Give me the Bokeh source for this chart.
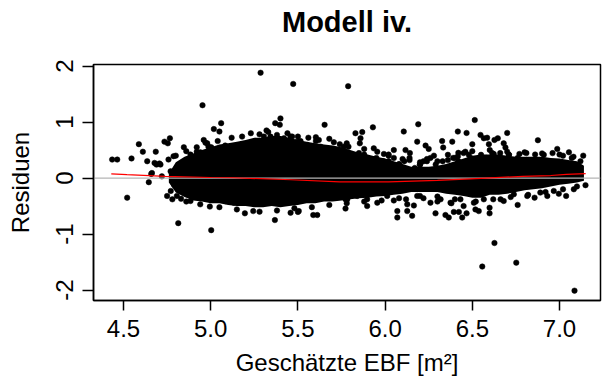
from bokeh.plotting import figure
from bokeh.models import Range1d, FixedTicker, NumeralTickFormatter, ColumnDataSource, LinearAxis
from bokeh.embed import file_html
from bokeh.resources import INLINE

# ---- data ----
title_text = "Modell iv."
x_label = "Geschätzte EBF [m²]"
y_label = "Residuen"

# dense core of the residual cloud (envelope per fitted value)
core_x = [4.76, 4.80, 4.85, 4.90, 4.95, 5.00, 5.05, 5.10, 5.15, 5.20, 5.25, 5.30, 5.35, 5.40,
          5.45, 5.50, 5.55, 5.60, 5.65, 5.70, 5.75, 5.80, 5.85, 5.90, 5.95, 6.00, 6.05, 6.10,
          6.15, 6.20, 6.25, 6.30, 6.35, 6.40, 6.45, 6.50, 6.55, 6.60, 6.65, 6.70, 6.75, 6.80,
          6.85, 6.90, 6.95, 7.00, 7.05, 7.10, 7.14]
core_hi = [0.08, 0.28, 0.38, 0.44, 0.50, 0.55, 0.60, 0.62, 0.65, 0.68, 0.72, 0.72, 0.75, 0.75,
           0.72, 0.68, 0.65, 0.62, 0.60, 0.58, 0.55, 0.50, 0.45, 0.42, 0.38, 0.35, 0.30, 0.25,
           0.20, 0.20, 0.20, 0.22, 0.25, 0.30, 0.35, 0.40, 0.42, 0.42, 0.42, 0.40, 0.38, 0.38,
           0.38, 0.38, 0.36, 0.35, 0.32, 0.30, 0.22]
core_lo = [-0.08, -0.26, -0.34, -0.40, -0.42, -0.45, -0.45, -0.48, -0.50, -0.50, -0.52, -0.52,
           -0.50, -0.52, -0.50, -0.48, -0.45, -0.45, -0.42, -0.42, -0.40, -0.38, -0.36, -0.35,
           -0.33, -0.32, -0.30, -0.28, -0.25, -0.25, -0.25, -0.25, -0.28, -0.30, -0.32, -0.35,
           -0.35, -0.30, -0.30, -0.28, -0.25, -0.22, -0.20, -0.18, -0.15, -0.12, -0.10, -0.08,
           -0.05]

# individual points outside / at the edge of the core
pts_x = [4.435, 4.464, 4.546, 4.588, 4.611, 4.636, 4.685, 4.689, 4.712, 4.735, 4.766, 4.754,
         4.846, 4.953, 4.96, 5.018, 5.05, 5.06, 5.003, 5.083, 5.286, 5.32, 5.37, 5.40, 5.396,
         5.473, 5.467, 5.515, 5.603, 5.603, 5.653, 5.706, 5.74, 5.788,
         4.663, 4.678, 4.706, 4.72, 4.659, 4.645, 4.521, 4.75, 4.814, 4.83, 4.884, 4.995,
         5.003, 4.987, 4.90, 4.94,
         5.196, 5.244, 5.368, 5.458, 5.50, 5.588, 5.611, 5.773, 5.505, 5.132, 5.085, 5.773,
         5.79, 5.83, 5.869, 5.859, 5.855, 5.93, 5.935, 5.955, 5.993, 6.05, 6.107, 6.117,
         6.142, 6.19, 6.184, 6.232, 6.25, 6.20, 6.22, 6.327, 6.333, 6.385, 6.417, 6.417,
         6.467, 6.46, 6.48, 6.514, 6.50, 6.547, 6.566, 6.585, 6.595, 6.627, 6.646, 6.623,
         6.68, 6.69, 6.70, 6.71, 6.77, 6.876, 6.987, 7.054, 7.136, 6.614,
         5.897, 6.07, 6.07, 6.127, 6.155, 6.165, 6.289, 6.346, 6.365, 6.394, 6.423, 6.442,
         6.467, 6.518, 6.537, 6.599, 6.599, 6.627, 6.557, 6.752, 6.76, 7.086, 7.149, 7.038,
         6.996, 6.857, 6.93, 6.68,
         5.12, 5.18, 5.23, 5.28, 5.33, 5.44, 5.50, 5.56, 5.62, 5.68, 5.78, 5.88, 4.98, 5.04,
         4.92, 4.86, 4.80, 4.78, 4.86, 4.94, 5.05, 5.15, 5.28, 5.38, 5.48, 5.58, 5.68, 5.78,
         5.88, 5.98, 6.08, 6.20, 6.30, 6.40, 6.52, 6.62, 6.72, 6.82, 6.92, 7.02, 7.10,
         6.02, 6.10, 6.20, 6.30, 6.40, 6.50, 6.60, 6.70, 6.80, 6.90, 7.00, 7.08,
         6.02, 6.08, 6.14, 6.24, 6.28, 6.36, 6.42, 6.05, 6.12, 6.22, 6.30, 6.38, 6.45]
pts_y = [0.33, 0.33, 0.35, 0.605, 0.47, 0.30, 0.47, 0.24, 0.24, 0.65, 0.71, 0.62,
         0.55, 1.30, 0.68, 0.875, 0.83, 0.98, 0.55, 0.58, 1.88, 0.85, 0.98, 1.065, 0.95,
         1.68, 0.74, 0.66, 0.73, 0.66, 0.95, 0.64, 0.605, 1.64,
         0.09, 0.27, 0.26, 0.03, 0.074, -0.074, -0.35, -0.32, -0.805, -0.37, -0.41, -0.51,
         -0.93, 0.56, 0.36, 0.46,
         -0.63, -0.59, -0.75, -0.62, -0.605, -0.66, -0.66, -0.545, -0.59, -0.44, -0.41, -0.38,
         0.56, 0.80, 0.82, 0.71, 0.62, 0.905, 0.53, 0.47, 0.43, 0.50, 0.83, 0.50,
         0.445, 0.96, 0.65, 0.58, 0.52, 0.24, 0.30, 0.66, 0.545, 0.65, 0.83, 0.385,
         0.805, 0.47, 0.415, 1.035, 0.605, 0.77, 0.71, 0.72, 0.605, 0.68, 0.71, 0.43,
         0.62, 0.545, 0.805, 0.415, 0.43, 0.675, 0.52, 0.46, 0.40, 0.445,
         -0.50, -0.59, -0.705, -0.59, -0.675, -0.49, -0.63, -0.66, -0.705, -0.605, -0.605, -0.705,
         -0.63, -0.56, -0.59, -0.53, -0.63, -1.16, -1.58, -1.51, -0.48, -2.01, -0.127, -0.32,
         -0.28, -0.35, -0.32, -0.41,
         0.72, 0.74, 0.80, 0.78, 0.82, 0.80, 0.74, 0.72, 0.68, 0.70, 0.62, 0.52, 0.62, 0.66,
         0.55, 0.48, 0.40, -0.38, -0.42, -0.47, -0.52, -0.56, -0.60, -0.58, -0.54, -0.52, -0.48, -0.45,
         -0.42, -0.40, -0.36, -0.32, -0.33, -0.38, -0.42, -0.38, -0.34, -0.30, -0.25, -0.20, -0.15,
         0.40, 0.34, 0.28, 0.30, 0.36, 0.48, 0.50, 0.47, 0.46, 0.44, 0.42, 0.38,
         0.30, 0.25, 0.32, 0.34, 0.40, 0.32, 0.45, -0.40, -0.38, -0.36, -0.42, -0.45, -0.50]

# more points read along the rough border of the dense core
edge_x = [4.884, 4.92, 4.97, 5.00, 5.095, 5.15, 5.21, 5.257, 5.305, 5.343, 5.38, 5.42, 5.458,
          5.496, 5.553, 5.63, 5.687, 5.763,
          5.80, 5.83, 5.85, 5.88, 5.92, 5.95, 5.99, 6.02, 6.05, 6.08, 6.11, 6.14, 6.17, 6.20,
          6.24, 6.26, 6.29, 6.33, 6.36, 6.39, 6.42, 6.45, 6.49, 6.52, 6.55, 6.58, 6.62, 6.66,
          6.71, 6.76, 6.81, 6.86, 6.91, 6.96, 7.02, 7.07, 7.12,
          5.783, 5.84, 5.897, 5.955, 6.012, 6.127, 6.184, 6.26, 6.318, 6.375, 6.432, 6.509,
          6.566, 6.662, 6.738, 6.815, 6.89, 6.967, 7.082,
          4.758, 4.787, 4.771, 4.806, 4.844, 4.83, 4.77, 4.79]
edge_y = [0.42, 0.47, 0.63, 0.54, 0.47, 0.53, 0.59, 0.66, 0.74, 0.74, 0.77, 0.71, 0.74,
          0.65, 0.59, 0.56, 0.50, 0.56,
          0.415, 0.36, 0.445, 0.42, 0.30, 0.36, 0.30, 0.42, 0.36, 0.24, 0.30, 0.36, 0.18, 0.24,
          0.30, 0.36, 0.24, 0.30, 0.415, 0.36, 0.30, 0.445, 0.36, 0.30, 0.415, 0.36, 0.30, 0.445,
          0.415, 0.36, 0.445, 0.42, 0.415, 0.445, 0.40, 0.36, 0.30,
          -0.38, -0.32, -0.38, -0.44, -0.32, -0.47, -0.32, -0.44, -0.38, -0.44, -0.38, -0.44,
          -0.38, -0.38, -0.29, -0.32, -0.26, -0.23, -0.20,
          0.33, 0.39, -0.23, -0.32, -0.20, 0.21, 0.12, -0.12]

# lowess smoother of residuals
smooth_x = [4.43, 4.52, 4.74, 5.00, 5.13, 5.46, 5.74, 6.02, 6.30, 6.58, 6.79, 6.95, 7.04, 7.15]
smooth_y = [0.075, 0.06, 0.03, 0.01, 0.005, -0.03, -0.07, -0.07, -0.04, 0.0, 0.03, 0.045, 0.065, 0.08]

x_ticks = [4.5, 5.0, 5.5, 6.0, 6.5, 7.0]
y_ticks = [-2, -1, 0, 1, 2]

FONT = "Liberation Sans"

p = figure(width=602, height=378, output_backend="svg", toolbar_location=None,
           x_range=Range1d(4.328, 7.235), y_range=Range1d(-2.186, 2.027),
           min_border_left=93, min_border_right=2, min_border_top=64, min_border_bottom=76)
p.background_fill_color = "white"
p.border_fill_color = "white"
p.outline_line_color = "black"
p.outline_line_width = 1.5
p.grid.visible = False

xa = p.below[0]
ya = p.left[0]

for ax in (xa, ya):
    ax.axis_line_color = "black"
    ax.axis_line_width = 1.5
    ax.major_tick_line_color = "black"
    ax.major_tick_line_width = 1.5
    ax.major_tick_in = 0
    ax.minor_tick_line_color = None
    ax.major_label_text_font = FONT
    ax.major_label_text_font_size = "24px"
    ax.major_label_text_color = "black"
    ax.axis_label_text_font = FONT
    ax.axis_label_text_font_size = "24px"
    ax.axis_label_text_font_style = "normal"
    ax.axis_label_text_color = "black"

xa.ticker = FixedTicker(ticks=x_ticks)
xa.formatter = NumeralTickFormatter(format="0.0")
xa.major_tick_out = 10
xa.major_label_standoff = 9
xa.axis_label = x_label
xa.axis_label_standoff = 9

ya.ticker = FixedTicker(ticks=y_ticks)
ya.formatter = NumeralTickFormatter(format="0")
ya.major_tick_out = 11
ya.major_label_orientation = "vertical"
ya.major_label_standoff = 9
ya.axis_label = y_label
ya.axis_label_standoff = 20

# title drawn as the label of a bare axis above the frame
title_axis = LinearAxis(ticker=FixedTicker(ticks=[]), axis_label=title_text,
                        axis_line_color=None, major_tick_line_color=None,
                        minor_tick_line_color=None, major_tick_out=0, major_tick_in=0,
                        major_label_text_font_size="0px", major_label_standoff=0,
                        axis_label_text_font=FONT, axis_label_text_font_size="29px",
                        axis_label_text_font_style="bold", axis_label_text_color="black",
                        axis_label_standoff=27)
p.add_layout(title_axis, "above")

p.varea(x=core_x, y1=core_lo, y2=core_hi, fill_color="black")
src = ColumnDataSource(data=dict(x=pts_x + edge_x, y=pts_y + edge_y))
p.scatter(x="x", y="y", source=src, marker="circle", size=5.5,
          fill_color="black", line_color="black", line_width=0.5)

p.line(x=[4.328, 7.235], y=[0, 0], line_color="#b5b5b5", line_width=1.3)
p.line(x=smooth_x, y=smooth_y, line_color="red", line_width=1.2)

open("out.html", "w").write(file_html(p, INLINE))
